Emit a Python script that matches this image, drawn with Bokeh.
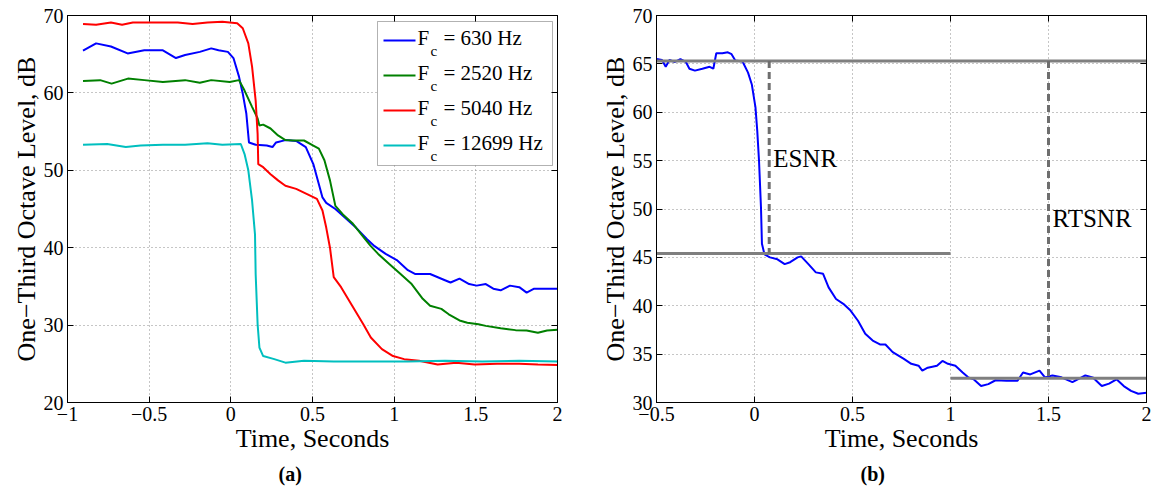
from bokeh.plotting import figure
from bokeh.models import (Range1d, FixedTicker, Label, BoxAnnotation, Title, CustomJSTickFormatter,
                          LinearAxis)
from bokeh.layouts import row
from bokeh.embed import file_html
from bokeh.resources import INLINE

# ---------------- data: panel (a) ----------------
t_630 = [-0.905, -0.825, -0.734, -0.632, -0.53, -0.416, -0.336, -0.28, -0.19, -0.12, -0.075, -0.018,
         0.016, 0.05, 0.073, 0.095, 0.111, 0.152, 0.22, 0.255, 0.277, 0.334, 0.40, 0.459, 0.505, 0.539,
         0.561, 0.584, 0.64, 0.698, 0.766, 0.834, 0.88, 0.948, 1.016, 1.084, 1.13, 1.22, 1.311, 1.345,
         1.40, 1.459, 1.505, 1.561, 1.607, 1.652, 1.709, 1.766, 1.811, 1.857, 1.902, 2.0]
db_630 = [65.45, 66.4, 66.0, 65.1, 65.5, 65.5, 64.5, 64.9, 65.3, 65.75, 65.5, 65.3,
          64.5, 62.1, 59.9, 57.3, 53.6, 53.3, 53.2, 53.0, 53.6, 53.9, 53.8, 53.0, 50.8, 48.2,
          46.5, 45.8, 45.0, 43.9, 42.6, 41.1, 40.2, 39.2, 38.4, 37.1, 36.6, 36.6, 35.8, 35.5,
          36.0, 35.3, 35.1, 35.3, 34.7, 34.5, 35.1, 34.9, 34.2, 34.7, 34.7, 34.7]

t_2520 = [-0.905, -0.8, -0.73, -0.63, -0.53, -0.416, -0.28, -0.19, -0.12, -0.007, 0.05, 0.084, 0.13,
          0.164, 0.175, 0.198, 0.243, 0.289, 0.334, 0.38, 0.448, 0.505, 0.539, 0.573, 0.607, 0.64,
          0.686, 0.743, 0.8, 0.857, 0.902, 0.97, 1.039, 1.107, 1.175, 1.22, 1.289, 1.334, 1.40,
          1.448, 1.516, 1.561, 1.652, 1.743, 1.811, 1.88, 1.936, 2.0]
db_2520 = [61.55, 61.65, 61.2, 61.85, 61.65, 61.4, 61.65, 61.3, 61.65, 61.4, 61.65, 60.3, 58.2,
           56.7, 55.8, 55.9, 55.4, 54.5, 53.9, 53.85, 53.85, 53.2, 52.8, 51.3, 48.7, 45.4,
           44.3, 43.2, 41.7, 40.2, 39.2, 37.9, 36.6, 35.3, 33.4, 32.5, 32.1, 31.4, 30.6,
           30.3, 30.1, 29.9, 29.6, 29.35, 29.3, 29.0, 29.3, 29.4]

t_5040 = [-0.905, -0.825, -0.734, -0.666, -0.6, -0.46, -0.325, -0.234, -0.143, -0.052, 0.039, 0.073,
          0.107, 0.13, 0.152, 0.164, 0.168, 0.198, 0.243, 0.289, 0.334, 0.40, 0.47, 0.527, 0.561,
          0.584, 0.607, 0.63, 0.675, 0.743, 0.811, 0.857, 0.925, 0.993, 1.061, 1.152, 1.266, 1.38,
          1.493, 1.63, 1.766, 1.88, 2.0]
db_5040 = [68.9, 68.8, 69.1, 68.8, 69.1, 69.1, 69.1, 68.9, 69.1, 69.2, 69.0, 68.35,
           66.4, 63.4, 59.0, 54.7, 50.8, 50.4, 49.5, 48.7, 48.0, 47.6, 46.9, 46.3, 44.8,
           42.6, 40.0, 36.2, 34.9, 32.5, 30.1, 28.4, 26.9, 26.0, 25.6, 25.4, 24.9, 25.15,
           24.9, 25.0, 25.0, 24.9, 24.85]

t_12699 = [-0.905, -0.757, -0.643, -0.552, -0.416, -0.28, -0.143, -0.052, 0.061, 0.084, 0.107, 0.13,
           0.148, 0.152, 0.164, 0.175, 0.198, 0.266, 0.334, 0.448, 0.63, 0.857, 1.084, 1.311, 1.539,
           1.766, 2.0]
db_12699 = [53.3, 53.4, 53.0, 53.2, 53.3, 53.3, 53.5, 53.3, 53.4, 52.1, 50.0, 46.1,
            41.7, 36.6, 30.1, 27.1, 26.0, 25.6, 25.15, 25.4, 25.3, 25.3, 25.3, 25.4, 25.3,
            25.4, 25.3]

series_names = ["630", "2520", "5040", "12699"]
series_colors = ["#0000ff", "#008000", "#ff0000", "#00bfbf"]

# ---------------- data: panel (b) ----------------
t_b = [-0.5, -0.472, -0.453, -0.434, -0.406, -0.378, -0.35, -0.332, -0.304, -0.266, -0.229, -0.21,
       -0.195, -0.164, -0.136, -0.117, -0.098, -0.061, -0.033, -0.014, 0.005, 0.014, 0.023, 0.033,
       0.038, 0.051, 0.079, 0.117, 0.154, 0.182, 0.22, 0.238, 0.275, 0.313, 0.35, 0.378, 0.416,
       0.453, 0.49, 0.528, 0.565, 0.603, 0.64, 0.668, 0.705, 0.762, 0.8, 0.837, 0.856, 0.884,
       0.931, 0.959, 0.987, 1.025, 1.062, 1.09, 1.118, 1.156, 1.193, 1.23, 1.286, 1.342, 1.37,
       1.407, 1.454, 1.482, 1.52, 1.566, 1.622, 1.688, 1.725, 1.772, 1.809, 1.847, 1.884, 1.921,
       1.958, 2.0]
db_b = [65.5, 65.4, 64.7, 65.4, 65.2, 65.5, 65.2, 64.5, 64.3, 64.5, 64.7, 64.5,
        66.1, 66.1, 66.2, 66.0, 65.35, 65.25, 64.1, 62.9, 60.5, 58.1, 55.0, 50.2,
        46.4, 45.3, 45.0, 44.8, 44.3, 44.5, 45.0, 45.1, 44.3, 43.45, 43.3, 41.9, 40.7,
        40.2, 39.5, 38.45, 37.1, 36.4, 36.0, 36.0, 35.2, 34.5, 34.0, 33.8, 33.3, 33.6,
        33.8, 34.3, 34.0, 33.8, 33.1, 32.6, 32.4, 31.7, 31.9, 32.3, 32.25, 32.25, 33.1,
        32.9, 33.3, 32.6, 32.8, 32.6, 32.1, 32.8, 32.6, 31.7, 31.95, 32.4, 31.7, 31.2,
        30.9, 31.0]

# reference levels (start, end, level) and SNR markers (time, top, bottom, label)
ref_x0 = [-0.5, -0.5, 1.0]
ref_x1 = [2.0, 1.0, 2.0]
ref_lvl = [65.3, 45.4, 32.5]
snr_t = [0.075, 1.5]
snr_top = [65.3, 65.3]
snr_bot = [45.4, 32.5]
snr_lab = ["ESNR", "RTSNR"]
snr_lab_y = [55.2, 49.0]

xt_a = [-1, -0.5, 0, 0.5, 1, 1.5, 2]
yt_a = [20, 30, 40, 50, 60, 70]
xt_b = [-0.5, 0, 0.5, 1, 1.5, 2]
yt_b = [30, 35, 40, 45, 50, 55, 60, 65, 70]

FONT = "Liberation Serif"
fmt_code = "return tick < 0 ? '\\u2212' + Math.abs(tick).toString() : tick.toString();"


def tick_style(ax):
    ax.major_tick_in = 6
    ax.major_tick_out = 0
    ax.minor_tick_line_color = None
    ax.axis_line_color = "black"
    ax.major_tick_line_color = "black"


def make_fig(xr, yr, xt, yt, fw, bl, br, caption, cap_off):
    p = figure(x_range=Range1d(*xr), y_range=Range1d(*yr), frame_width=fw, frame_height=387,
               min_border_left=bl, min_border_right=br, min_border_top=15, min_border_bottom=60,
               output_backend="svg", toolbar_location=None, background_fill_color="white",
               border_fill_color="white")
    p.outline_line_color = "black"
    p.outline_line_width = 1
    p.xaxis.ticker = FixedTicker(ticks=xt)
    p.yaxis.ticker = FixedTicker(ticks=yt)
    for ax in (p.xaxis[0], p.yaxis[0]):
        ax.formatter = CustomJSTickFormatter(code=fmt_code)
        tick_style(ax)
        ax.major_label_text_font = FONT
        ax.major_label_text_font_size = "20px"
        ax.major_label_text_color = "black"
        ax.major_label_standoff = 4
        ax.axis_label_text_font = FONT
        ax.axis_label_text_font_size = "26px"
        ax.axis_label_text_font_style = "normal"
        ax.axis_label_text_color = "black"
        ax.axis_label_standoff = 0
    p.xaxis.axis_label = "Time, Seconds"
    p.yaxis.axis_label = "One\u2212Third Octave Level, dB"
    # box ticks on top and right (no labels)
    for side, tk in (("above", xt), ("right", yt)):
        ax = LinearAxis(ticker=FixedTicker(ticks=tk),
                        formatter=CustomJSTickFormatter(code="return '';"),
                        major_label_standoff=0)
        tick_style(ax)
        p.add_layout(ax, side)
    for g in (p.xgrid[0], p.ygrid[0]):
        g.grid_line_color = "#8c8c8c"
        g.grid_line_dash = "1 3"
        g.grid_line_width = 1
    t = Title(text=caption, align="left", text_font=FONT, text_font_size="20px",
              text_font_style="bold", text_color="black", offset=cap_off)
    p.add_layout(t, "below")
    return p


# ---------- panel (a) ----------
pa = make_fig((-1, 2), (20, 70), xt_a, yt_a, 490, 67, 39, "(a)", 211)
series_t = [t_630, t_2520, t_5040, t_12699]
series_v = [db_630, db_2520, db_5040, db_12699]
for tt, vv, c in zip(series_t, series_v, series_colors):
    pa.line(tt, vv, line_color=c, line_width=2)

# legend drawn manually (subscript c); helpers convert frame pixels to data units
def lx(px):
    return -1 + (px - 67) / (490 / 3)

def ly(py):
    return 70 - (py - 15) / (387 / 50)

pa.add_layout(BoxAnnotation(left=lx(377), right=lx(552), top=ly(21), bottom=ly(165),
                            fill_color="white", fill_alpha=1, line_color="black", line_width=1,
                            level="underlay"))
for i, (nm, c) in enumerate(zip(series_names, series_colors)):
    yl = 40 + 35 * i
    pa.segment(x0=[lx(383)], y0=[ly(yl)], x1=[lx(415)], y1=[ly(yl)], line_color=c, line_width=2)
    pa.add_layout(Label(x=lx(417), y=ly(37 + 35 * i), text="F", text_font=FONT,
                        text_font_size="21px", text_baseline="middle", text_color="black"))
    pa.add_layout(Label(x=lx(430), y=ly(50 + 35 * i), text="c", text_font=FONT,
                        text_font_size="15px", text_baseline="middle", text_color="black"))
    pa.add_layout(Label(x=lx(443), y=ly(37 + 35 * i), text="= " + nm + " Hz", text_font=FONT,
                        text_font_size="21px", text_baseline="middle", text_color="black"))

# ---------- panel (b) ----------
pb = make_fig((-0.5, 2), (30, 70), xt_b, yt_b, 490, 60, 8, "(b)", 204)
pb.line(t_b, db_b, line_color="#0000ff", line_width=2)
pb.segment(x0=ref_x0, y0=ref_lvl, x1=ref_x1, y1=ref_lvl, line_color="#7f7f7f", line_width=3)
pb.segment(x0=snr_t, y0=snr_top, x1=snr_t, y1=snr_bot, line_color="#6e6e6e", line_width=3,
           line_dash="7 4")
for xv, yv, lab in zip(snr_t, snr_lab_y, snr_lab):
    pb.add_layout(Label(x=xv, y=yv, x_offset=4, text=lab, text_font=FONT, text_font_size="25px",
                        text_baseline="middle", text_color="black"))

layout = row(pa, pb)
open("out.html", "w").write(file_html(layout, INLINE))
